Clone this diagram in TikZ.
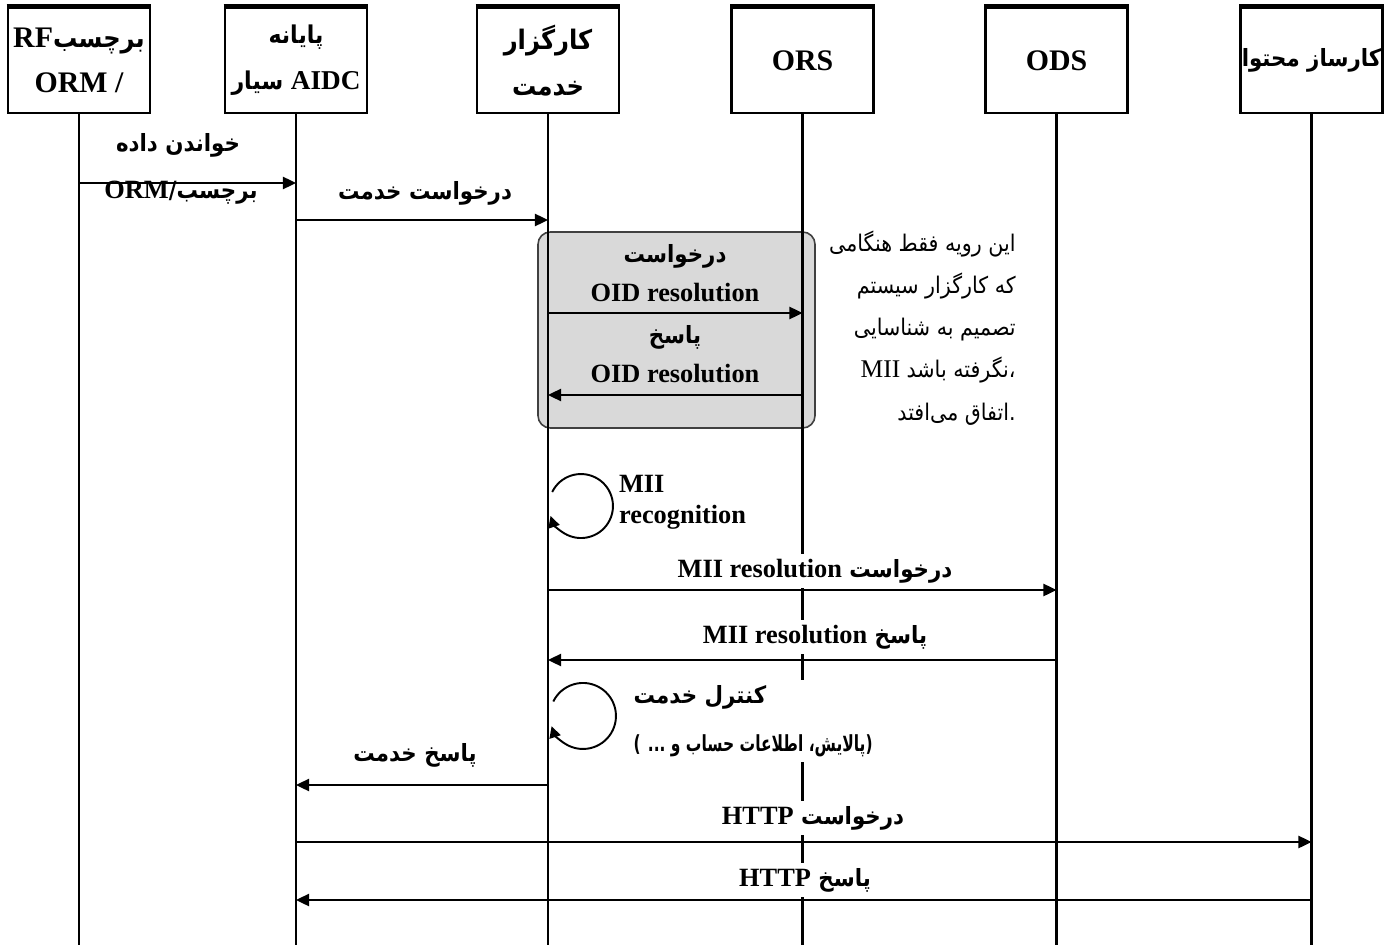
\documentclass[tikz,border=0pt]{standalone}
\usepackage{fontspec}
\setmainfont{Liberation Serif}
\newfontfamily\farsi[Script=Arabic,Scale=0.9,FakeStretch=0.9]{DejaVu Sans}
\newfontfamily\farsinarrow[Script=Arabic,Scale=0.9,FakeStretch=0.7]{DejaVu Sans}
\TeXXeTstate=1
\usetikzlibrary{arrows.meta,positioning,calc}
\newcommand{\fa}[1]{{\farsi\beginR #1\endR}}
\newcommand{\fan}[1]{{\farsinarrow\beginR #1\endR}}
\newcommand{\en}[1]{\beginL{\rmfamily #1}\endL}
\tikzset{
  actor/.style={draw,line width=1.6pt,minimum width=2.84cm,minimum height=2.1cm,inner sep=0pt,align=center,font=\bfseries\fontsize{17}{26}\selectfont},
  life/.style={line width=1.6pt},
  msg/.style={-{Triangle[length=7.5pt,width=7pt]},line width=1.1pt},
  selfloop/.style={-{Triangle[length=6.5pt,width=6.5pt]},line width=1.1pt},
  lbl/.style={font=\bfseries\fontsize{15}{22.5}\selectfont,inner sep=1pt},
  cut/.style={fill=white,inner sep=3pt},
  grp/.style={draw=black!75,line width=0.9pt,fill=black!15,rounded corners=7pt},
  note/.style={font=\fontsize{14.5}{24}\selectfont,align=right,inner sep=0pt}
}
\begin{document}
\begin{tikzpicture}[x=0.02cm,y=-0.02cm]
\useasboundingbox (0,0) rectangle (1385,949);
% participants
\node[actor] (tag) at (79,60.5) {\fa{برچسب\en{RF}}\\ORM /};
\node[actor,font=\bfseries\fontsize{15.5}{26}\selectfont] (term) at (296,60.5) {\fa{پایانه}\\\fa{\en{AIDC} سیار}};
\node[actor] (broker) at (548,60.5) {\fa{کارگزار}\\\fa{خدمت}};
\node[actor] (ors) at (802.5,60.5) {ORS};
\node[actor] (ods) at (1056.5,60.5) {ODS};
\node[actor,font=\bfseries\fontsize{15}{26}\selectfont] (csrv) at (1311.5,60.5) {\fa{کارساز محتوا}};
\foreach \a in {tag,term,broker,ors,ods,csrv}
  \draw[line width=3pt] (\a.north west) -- (\a.north east);

% optional OID block
\draw[grp] (538,232) rectangle (815,428);

% lifelines
\coordinate (bot) at (0,945);
\foreach \a in {tag,term,broker,ors,ods,csrv}
  \draw[life] (\a.south) -- (\a.south |- bot);

% labels
\node[lbl] (readlbl) at (178,145) {\fa{خواندن داده}};
\node[lbl] (taglbl) at (181,193) {\fa{برچسب/\en{ORM}}};
\node[lbl] (srvreq) at (425,193) {\fa{درخواست خدمت}};
\node[lbl,align=center] (oidreq) at (675,273) {\fa{درخواست}\\OID resolution};
\node[lbl,align=center] (oidres) at (675,354) {\fa{پاسخ}\\OID resolution};
\node[note,anchor=east] (cond) at (1016,328) {\fa{این رویه فقط هنگامی}\\\fa{که کارگزار سیستم}\\\fa{تصمیم به شناسایی}\\\en{MII} \fa{نگرفته باشد}{\farsi ،}\\\fa{اتفاق می^^^^200cافتد}{\farsi .}};
\node[lbl,align=left,anchor=west,font=\bfseries\fontsize{15}{17.5}\selectfont] (miirec) at (617,502) {MII\\recognition};
\node[lbl,cut] (miireq) at (815,571) {\fa{درخواست \en{MII resolution}}};
\node[lbl,cut] (miires) at (815,637) {\fa{پاسخ \en{MII resolution}}};
\node[lbl,cut,align=left,anchor=west,font=\bfseries\fontsize{15}{27}\selectfont] (ctrl) at (628,721) {\fa{کنترل خدمت}\\{\fontsize{14}{16}\selectfont\fan{(پالایش، اطلاعات حساب و ... )}}};
\node[lbl] (srvres) at (415,755) {\fa{پاسخ خدمت}};
\node[lbl,cut] (httpreq) at (813,818) {\fa{درخواست \en{HTTP}}};
\node[lbl,cut] (httpres) at (805,880) {\fa{پاسخ \en{HTTP}}};

% messages
\coordinate (r1) at (0,183);
\coordinate (r2) at (0,220);
\coordinate (r3) at (0,313);
\coordinate (r4) at (0,395);
\coordinate (r5) at (0,590);
\coordinate (r6) at (0,660);
\coordinate (r7) at (0,785);
\coordinate (r8) at (0,842);
\coordinate (r9) at (0,900);
\draw[msg] (tag |- r1) -- (term |- r1);
\draw[msg] (term |- r2) -- (broker |- r2);
\draw[msg] (broker |- r3) -- (ors |- r3);
\draw[msg] (ors |- r4) -- (broker |- r4);
\draw[msg] (broker |- r5) -- (ods |- r5);
\draw[msg] (ods |- r6) -- (broker |- r6);
\draw[msg] (broker |- r7) -- (term |- r7);
\draw[msg] (term |- r8) -- (csrv |- r8);
\draw[msg] (csrv |- r9) -- (term |- r9);

% self calls
\coordinate (lp1) at (552.2,492);
\coordinate (lp2) at (553.3,701.5);
\draw[selfloop] (lp1) arc[start angle=-154,end angle=162,radius=32];
\draw[selfloop] (lp2) arc[start angle=-154,end angle=162,radius=33];
\end{tikzpicture}
\end{document}
